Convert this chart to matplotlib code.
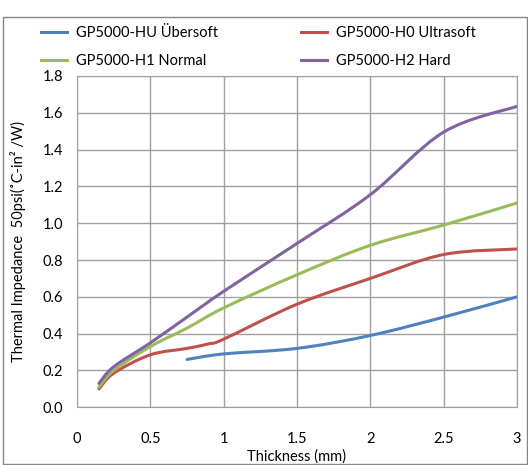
import matplotlib.pyplot as plt
from matplotlib.path import Path
from matplotlib.patches import PathPatch, Rectangle
from matplotlib.lines import Line2D

# thickness (mm) and thermal impedance values
thick_hu = [0.75, 1.0, 1.5, 2.0, 2.5, 3.0]
imp_hu = [0.26, 0.29, 0.32, 0.39, 0.49, 0.60]

thick_h0 = [0.15, 0.25, 0.5, 0.75, 0.9, 1.0, 1.5, 2.0, 2.5, 3.0]
imp_h0 = [0.10, 0.185, 0.285, 0.32, 0.345, 0.37, 0.56, 0.70, 0.83, 0.86]

thick_h1 = [0.15, 0.25, 0.5, 0.75, 1.0, 1.5, 2.0, 2.5, 3.0]
imp_h1 = [0.11, 0.20, 0.33, 0.43, 0.54, 0.72, 0.88, 0.99, 1.11]

thick_h2 = [0.15, 0.25, 0.5, 0.75, 1.0, 1.5, 2.0, 2.5, 3.0]
imp_h2 = [0.13, 0.22, 0.35, 0.49, 0.63, 0.89, 1.155, 1.495, 1.635]

labels = ["GP5000-HU Übersoft", "GP5000-H0 Ultrasoft",
          "GP5000-H1 Normal", "GP5000-H2 Hard"]
colors = ['#4F81BD', '#C0504D', '#9BBB59', '#8064A2']

x_ticks = [0, 0.5, 1, 1.5, 2, 2.5, 3]
x_tick_labels = ["0", "0.5", "1", "1.5", "2", "2.5", "3"]
y_ticks = [0.0, 0.2, 0.4, 0.6, 0.8, 1.0, 1.2, 1.4, 1.6, 1.8]

plt.rcParams['font.family'] = ['Lato', 'DejaVu Sans']


def smooth_path(xs, ys):
    # excel-style smoothed line drawn as bezier segments
    pts = list(zip(xs, ys))
    verts = [pts[0]]
    codes = [Path.MOVETO]
    n = len(pts)
    for i in range(n - 1):
        p0 = pts[i - 1] if i > 0 else pts[i]
        p1 = pts[i]
        p2 = pts[i + 1]
        p3 = pts[i + 2] if i + 2 < n else pts[i + 1]
        c1 = (p1[0] + (p2[0] - p0[0]) / 6, p1[1] + (p2[1] - p0[1]) / 6)
        c2 = (p2[0] - (p3[0] - p1[0]) / 6, p2[1] - (p3[1] - p1[1]) / 6)
        verts += [c1, c2, p2]
        codes += [Path.CURVE4] * 3
    return Path(verts, codes)


fig = plt.figure(figsize=(5.28, 4.65), dpi=100)
ax = fig.add_axes([0.1458, 0.1241, 0.8333, 0.7125])

# outer chart border
fig.patches.append(Rectangle((0.005, 0.003), 0.993, 0.961, transform=fig.transFigure,
                             fill=False, edgecolor='#868686', linewidth=1))

series = [(thick_hu, imp_hu), (thick_h0, imp_h0), (thick_h1, imp_h1), (thick_h2, imp_h2)]
handles = []
for (xs, ys), c, lab in zip(series, colors, labels):
    ax.add_patch(PathPatch(smooth_path(xs, ys), fill=False, edgecolor=c,
                           linewidth=2.2, capstyle='round', zorder=3))
    handles.append(Line2D([], [], color=c, linewidth=2.2, label=lab))

ax.set_xlim(0, 3)
ax.set_ylim(0, 1.8)
ax.set_xticks(x_ticks)
ax.set_xticklabels(x_tick_labels)
ax.set_yticks(y_ticks)
ax.set_yticklabels(["{:.1f}".format(v) for v in y_ticks])
ax.tick_params(length=0, labelsize=10.5)
ax.tick_params(axis='y', pad=10)
ax.tick_params(axis='x', pad=18)
ax.grid(True, color='#a0a0a0', linewidth=1)
ax.set_axisbelow(True)
for s in ax.spines.values():
    s.set_color('#a0a0a0')

ax.set_xlabel("Thickness (mm)", fontsize=10.5, labelpad=2)
ax.set_ylabel("Thermal Impedance  50psi(˚C-in² /W)", fontsize=10.5, labelpad=12)

# legend order: row 1 HU / H0, row 2 H1 / H2
order = [handles[0], handles[2], handles[1], handles[3]]
fig.legend(handles=order, ncol=2, loc='upper left', bbox_to_anchor=(0.053, 0.972),
           frameon=False, fontsize=10.5, handlelength=1.8, handletextpad=0.6,
           labelspacing=0.95, columnspacing=5.7)

plt.savefig("out.png", dpi=100)
